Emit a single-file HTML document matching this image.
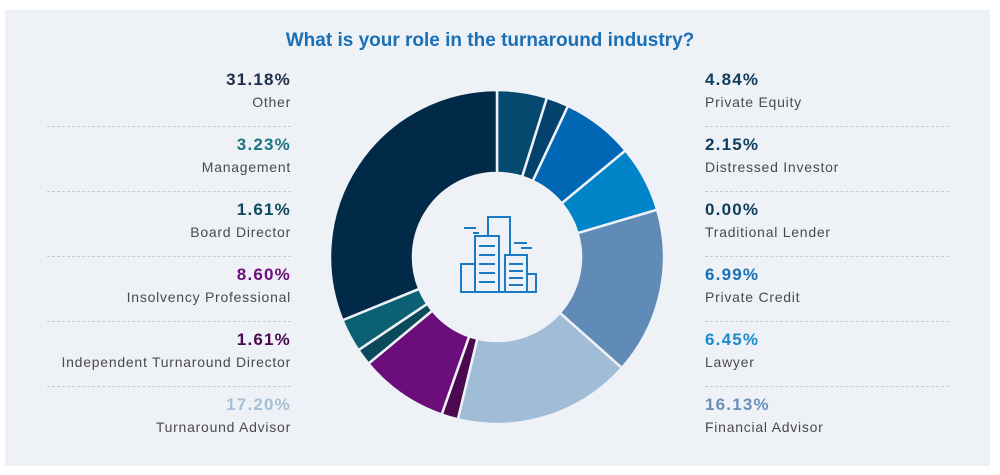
<!DOCTYPE html>
<html><head><meta charset="utf-8"><style>
body{margin:0;width:1000px;height:475px;background:#fff;font-family:"Liberation Sans",sans-serif;position:relative;overflow:hidden}
.panel{position:absolute;left:5px;top:10px;width:985px;height:456px;background:#eef1f6}
.title{position:absolute;left:0;width:980px;top:30px;text-align:center;font-weight:bold;font-size:19px;color:#1a6fb5}
.item{position:absolute;width:244px;height:65px}
.l{left:47px;text-align:right}
.r{left:705px;text-align:left}
.p{font-weight:bold;font-size:17px;letter-spacing:1.2px;line-height:20px;margin-top:0}
.n{font-size:14px;color:#4a4a4a;letter-spacing:.75px;line-height:20px;margin-top:2px}
.sep{position:absolute;width:244px;border-top:1px dashed #c9ccd2;height:0}
</style></head><body>
<div class="panel"></div>
<div class="title">What is your role in the turnaround industry?</div>

<div class="item l" style="top:70px"><div class="p" style="color:#1c2e48">31.18%</div><div class="n">Other</div></div>
<div class="item l" style="top:135px"><div class="p" style="color:#1a7583">3.23%</div><div class="n">Management</div></div>
<div class="item l" style="top:200px"><div class="p" style="color:#0d4b5c">1.61%</div><div class="n">Board Director</div></div>
<div class="item l" style="top:265px"><div class="p" style="color:#6b0d7a">8.60%</div><div class="n">Insolvency Professional</div></div>
<div class="item l" style="top:330px"><div class="p" style="color:#4a0a50">1.61%</div><div class="n">Independent Turnaround Director</div></div>
<div class="item l" style="top:395px"><div class="p" style="color:#a6bfd8">17.20%</div><div class="n">Turnaround Advisor</div></div>

<div class="item r" style="top:70px"><div class="p" style="color:#0e3d5e">4.84%</div><div class="n">Private Equity</div></div>
<div class="item r" style="top:135px"><div class="p" style="color:#0e3d5e">2.15%</div><div class="n">Distressed Investor</div></div>
<div class="item r" style="top:200px"><div class="p" style="color:#0e3d5e">0.00%</div><div class="n">Traditional Lender</div></div>
<div class="item r" style="top:265px"><div class="p" style="color:#1670b8">6.99%</div><div class="n">Private Credit</div></div>
<div class="item r" style="top:330px"><div class="p" style="color:#1a8ad0">6.45%</div><div class="n">Lawyer</div></div>
<div class="item r" style="top:395px"><div class="p" style="color:#6a8fb8">16.13%</div><div class="n">Financial Advisor</div></div>

<div class="sep" style="left:47px;top:126px"></div><div class="sep" style="left:47px;top:191px"></div><div class="sep" style="left:47px;top:256px"></div><div class="sep" style="left:47px;top:321px"></div><div class="sep" style="left:47px;top:386px"></div>
<div class="sep" style="left:705px;top:126px"></div><div class="sep" style="left:705px;top:191px"></div><div class="sep" style="left:705px;top:256px"></div><div class="sep" style="left:705px;top:321px"></div><div class="sep" style="left:705px;top:386px"></div>

<svg id="d" style="position:absolute;left:0;top:0" width="1000" height="475">
<g id="segs"></g>
<g fill="none" stroke="#1a7ac4" stroke-width="2">
<rect x="488" y="217" width="22" height="75"/>
<rect x="475" y="236" width="24" height="56" fill="#eef1f6"/>
<rect x="505" y="255" width="22" height="37" fill="#eef1f6"/>
<rect x="461" y="264" width="14" height="28"/>
<rect x="527" y="274" width="9" height="18"/>
<line x1="464" y1="228" x2="476" y2="228"/><line x1="473" y1="233" x2="479" y2="233"/>
<line x1="514" y1="243" x2="527" y2="243"/><line x1="521" y1="248" x2="532" y2="248"/>
<line x1="479" y1="246" x2="495" y2="246"/><line x1="479" y1="255" x2="495" y2="255"/><line x1="479" y1="264" x2="495" y2="264"/><line x1="479" y1="273" x2="495" y2="273"/><line x1="479" y1="282" x2="495" y2="282"/>
<line x1="509" y1="264" x2="523" y2="264"/><line x1="509" y1="271" x2="523" y2="271"/><line x1="509" y1="278" x2="523" y2="278"/><line x1="509" y1="285" x2="523" y2="285"/>
</g>
</svg>
<script>
var data=[[4.84,"#054a6e"],[2.15,"#03426c"],[0,"#03426c"],[6.99,"#0067b4"],[6.45,"#0084c8"],[16.13,"#5f8bb6"],[17.20,"#a0bcd6"],[1.61,"#4a0a50"],[8.60,"#6b0d7a"],[1.61,"#0b4a5a"],[3.23,"#0c6074"],[31.18,"#012a48"]];
var cx=497,cy=257,R=167,r=84,tot=0;data.forEach(function(d){tot+=d[0]});
var a=0,h="";
function pt(rad,ang){return (cx+rad*Math.sin(ang)).toFixed(2)+","+(cy-rad*Math.cos(ang)).toFixed(2)}
data.forEach(function(d){if(d[0]<=0)return;var a0=a/tot*2*Math.PI;a+=d[0];var a1=a/tot*2*Math.PI;var lg=(a1-a0)>Math.PI?1:0;
h+='<path d="M'+pt(R,a0)+' A'+R+','+R+' 0 '+lg+' 1 '+pt(R,a1)+' L'+pt(r,a1)+' A'+r+','+r+' 0 '+lg+' 0 '+pt(r,a0)+' Z" fill="'+d[1]+'" stroke="#eef1f6" stroke-width="2.5"/>';});
document.getElementById("segs").innerHTML=h;
</script>
</body></html>
